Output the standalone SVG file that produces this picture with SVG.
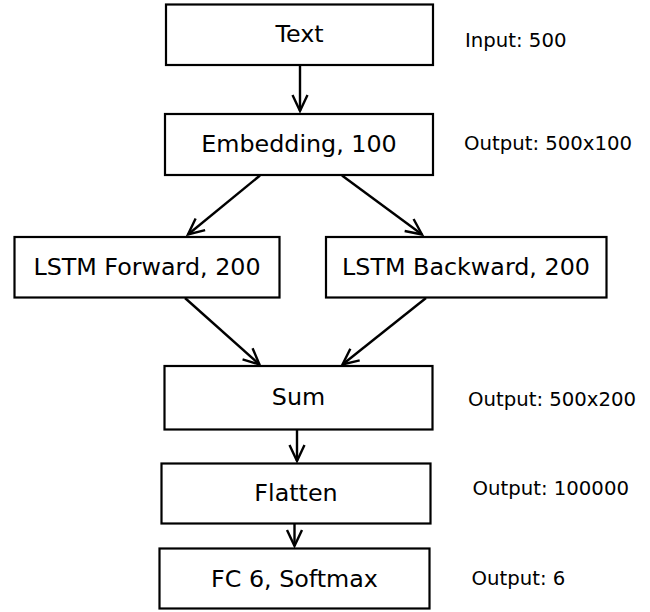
<svg xmlns="http://www.w3.org/2000/svg" width="650" height="612" viewBox="0 0 650 612">
  <style>
    .box { fill: #ffffff; stroke: #000000; stroke-width: 2.2; }
    .lbl { font-family: "DejaVu Sans", sans-serif; font-size: 23.8px; fill: #000000; text-anchor: middle; }
    .side { font-family: "DejaVu Sans", sans-serif; font-size: 19.7px; fill: #000000; }
    .edge { stroke: #000000; stroke-width: 2.4; fill: none; marker-end: url(#arrow); }
  </style>
  <defs>
    <marker id="arrow" markerUnits="userSpaceOnUse" markerWidth="24" markerHeight="24" viewBox="-20 -12 24 24" refX="0" refY="0" orient="auto" overflow="visible">
      <path d="M-16,-7.5 L0,0 L-16,7.5" fill="none" stroke="#000000" stroke-width="2.4" stroke-linejoin="miter"/>
    </marker>
  </defs>
  <rect width="650" height="612" fill="#ffffff"/>

  <g id="connectors">
    <line class="edge" x1="300" y1="65" x2="300" y2="111"/>
    <line class="edge" x1="260" y1="175.5" x2="188" y2="234.5"/>
    <line class="edge" x1="342" y1="175.5" x2="422" y2="234.5"/>
    <line class="edge" x1="185" y1="298" x2="259.5" y2="364.5"/>
    <line class="edge" x1="426" y1="298" x2="342.5" y2="364.5"/>
    <line class="edge" x1="297" y1="430" x2="297" y2="461"/>
    <line class="edge" x1="294.5" y1="524" x2="294.5" y2="546"/>
  </g>

  <g id="node-text">
    <rect class="box" x="166" y="4.5" width="267" height="60.5"/>
    <text class="lbl" x="299.5" y="42.3">Text</text>
  </g>
  <g id="node-embedding">
    <rect class="box" x="165" y="114" width="268" height="61"/>
    <text class="lbl" x="299" y="152">Embedding, 100</text>
  </g>
  <g id="node-lstm-forward">
    <rect class="box" x="14.5" y="237" width="265" height="60.5"/>
    <text class="lbl" x="147" y="275">LSTM Forward, 200</text>
  </g>
  <g id="node-lstm-backward">
    <rect class="box" x="326" y="237" width="280.5" height="60.5"/>
    <text class="lbl" x="466" y="275">LSTM Backward, 200</text>
  </g>
  <g id="node-sum">
    <rect class="box" x="164.5" y="366" width="268" height="63.5"/>
    <text class="lbl" x="298.5" y="405">Sum</text>
  </g>
  <g id="node-flatten">
    <rect class="box" x="161.5" y="463.5" width="269" height="60"/>
    <text class="lbl" x="296" y="501">Flatten</text>
  </g>
  <g id="node-fc">
    <rect class="box" x="159.5" y="548.5" width="270" height="60"/>
    <text class="lbl" x="294.5" y="586.5">FC 6, Softmax</text>
  </g>

  <g id="side-labels">
    <text class="side" x="465" y="47.3">Input: 500</text>
    <text class="side" x="464" y="150">Output: 500x100</text>
    <text class="side" x="468" y="406">Output: 500x200</text>
    <text class="side" x="472.5" y="495.3">Output: 100000</text>
    <text class="side" x="471.5" y="585">Output: 6</text>
  </g>
</svg>
